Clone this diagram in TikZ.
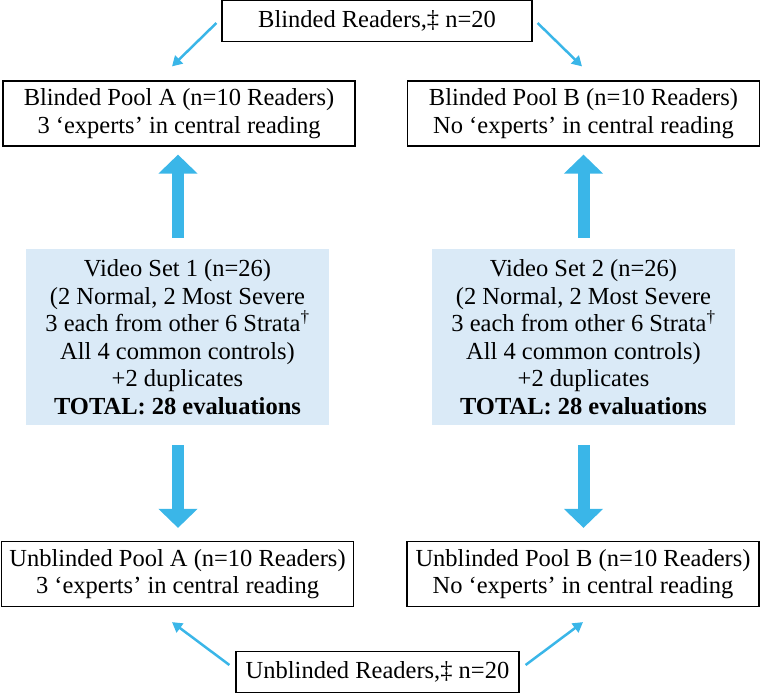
\documentclass[tikz,border=0pt]{standalone}
\usepackage{fontspec}
\setmainfont{Liberation Serif}
\usetikzlibrary{arrows.meta}

\definecolor{arrowblue}{RGB}{58,182,232}
\definecolor{boxblue}{RGB}{218,234,247}

\begin{document}
\begin{tikzpicture}[
    x=1pt, y=-1pt,
    every node/.style={font=\fontsize{24.5}{27.5}\selectfont, align=center, inner sep=0pt},
    readers/.style={draw, line width=1.2pt, minimum height=41pt},
    pool/.style={draw, line width=1.2pt, minimum width=352pt, minimum height=65pt},
    vidset/.style={fill=boxblue, minimum width=303pt, minimum height=176pt},
    thinarr/.style={draw=arrowblue, line width=2.5pt, -{Triangle[length=10pt, width=11pt]}},
    bigarr/.style={draw=arrowblue, line width=12pt, -{Triangle[length=19pt, width=38pt]}},
]

    \useasboundingbox (0,0) rectangle (761,693);

    \node[readers, minimum width=310pt] (blind) at (377, 21) {Blinded Readers,‡ n=20};

    \node[pool] (poolA) at (179, 113.5) {Blinded Pool A (n=10 Readers)\\3 ‘experts’ in central reading};
    \node[pool] (poolB) at (583.5, 113.5) {Blinded Pool B (n=10 Readers)\\No ‘experts’ in central reading};

    \node[vidset] (set1) at (177.5, 337) {Video Set 1 (n=26)\\(2 Normal, 2 Most Severe\\3 each from other 6 Strata\textsuperscript{†}\\All 4 common controls)\\+2 duplicates\\\textbf{TOTAL: 28 evaluations}};
    \node[vidset] (set2) at (583.5, 337) {Video Set 2 (n=26)\\(2 Normal, 2 Most Severe\\3 each from other 6 Strata\textsuperscript{†}\\All 4 common controls)\\+2 duplicates\\\textbf{TOTAL: 28 evaluations}};

    \node[pool] (unpoolA) at (177.5, 574) {Unblinded Pool A (n=10 Readers)\\3 ‘experts’ in central reading};
    \node[pool] (unpoolB) at (583, 574) {Unblinded Pool B (n=10 Readers)\\No ‘experts’ in central reading};

    \node[readers, minimum width=283pt] (unblind) at (377.5, 672) {Unblinded Readers,‡ n=20};

    % readers split into the two pools
    \draw[thinarr] ([shift={(-5,2)}]blind.west) -- ([shift={(-7,-14)}]poolA.north);
    \draw[thinarr] ([shift={(5,2)}]blind.east) -- ([shift={(-1.5,-14)}]poolB.north);
    \draw[thinarr] ([shift={(-6,-7)}]unblind.west) -- ([shift={(-5.5,15)}]unpoolA.south);
    \draw[thinarr] ([shift={(6,-7)}]unblind.east) -- ([shift={(0,15)}]unpoolB.south);

    % big arrows from the video sets
    \draw[bigarr] ([shift={(0.5,-11)}]set1.north) -- ([shift={(-1,8)}]poolA.south);
    \draw[bigarr] ([shift={(0,-11)}]set2.north) -- ([shift={(0,8)}]poolB.south);
    \draw[bigarr] ([shift={(0.5,20)}]set1.south) -- ([shift={(0.5,-13)}]unpoolA.north);
    \draw[bigarr] ([shift={(0,20)}]set2.south) -- ([shift={(0.5,-13)}]unpoolB.north);

\end{tikzpicture}
\end{document}
